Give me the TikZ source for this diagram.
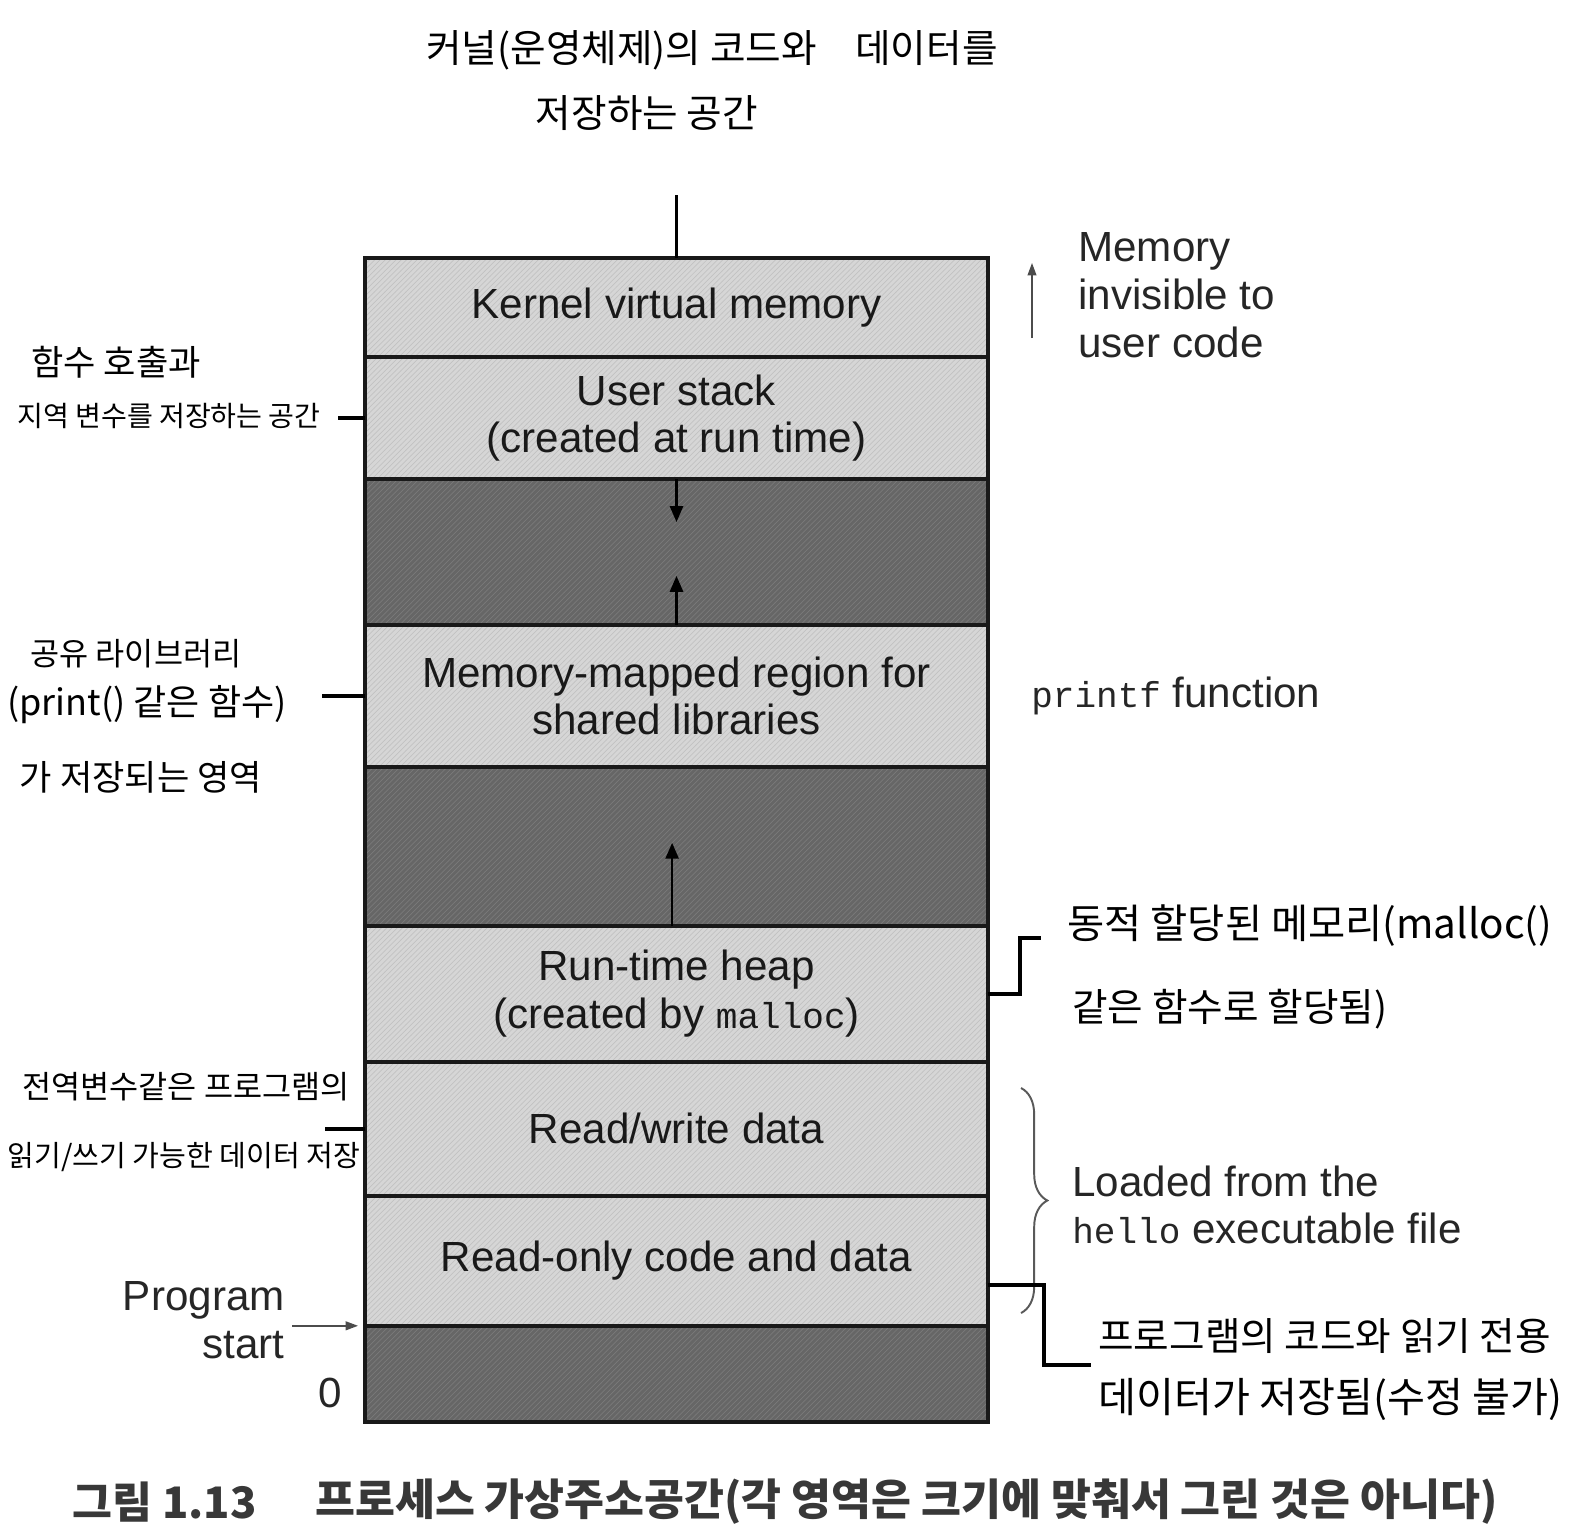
\documentclass[tikz,border=0pt]{standalone}
\usepackage{fontspec}
\setmainfont{Liberation Sans}
\setmonofont{Liberation Mono}
\newfontfamily\krfont{Noto Sans CJK KR}
\usetikzlibrary{
	arrows.meta,
	positioning,
	calc,
	patterns,
	decorations.pathreplacing
}

\newcommand\segfont{\fontsize{24}{27.2}\selectfont}
\newcommand\code[1]{{\fontsize{20.5}{24}\selectfont\ttfamily #1}}
\newcommand\handsize[1]{\fontsize{#1}{#1}\selectfont\krfont}

\begin{document}
\begin{tikzpicture}[
    x=0.02cm, y=-0.02cm,
    seg/.style={rectangle, draw=black!90, line width=2pt, minimum width=12.46cm, inner sep=0pt, outer sep=0pt, align=center, font=\segfont, text=black!90},
    light/.style={seg, preaction={fill=black!16}, pattern=north east lines, pattern color=black!24},
    dark/.style={seg, preaction={fill=black!60}, pattern=north east lines, pattern color=black!52},
    side/.style={font=\segfont, text=black!85, inner sep=0pt},
    hand/.style={inner sep=0pt, text=black},
    capfont/.style={font=\fontsize{24.7}{24.7}\selectfont\krfont\bfseries, text=black!78, inner sep=0pt},
    link/.style={line width=2.2pt},
    arrow/.style={line width=1.2pt, -{Triangle[length=9pt,width=7.5pt]}},
    thinarrow/.style={line width=0.8pt, black!70, -{Triangle[length=7pt,width=5pt]}}
]
\useasboundingbox (0,0) rectangle (1578,1536);

% Address space, top to bottom
\node[light, minimum height=1.98cm] (kernel) at (676.5,307.5) {Kernel virtual memory};
\node[light, minimum height=2.44cm, below=0pt of kernel] (stack) {User stack\\(created at run time)};
\node[dark, minimum height=2.92cm, below=0pt of stack] (gapa) {};
\node[light, minimum height=2.84cm, below=0pt of gapa] (mmap) {Memory-mapped region for\\shared libraries};
\node[dark, minimum height=3.18cm, below=0pt of mmap] (gapb) {};
\node[light, minimum height=2.72cm, below=0pt of gapb] (heap) {Run-time heap\\(created by \code{malloc})};
\node[light, minimum height=2.68cm, below=0pt of heap] (rw) {Read/write data};
\node[light, minimum height=2.60cm, below=0pt of rw] (ro) {Read-only code and data};
\node[dark, minimum height=1.92cm, below=0pt of ro] (gapc) {};

% Growth arrows
\draw[arrow] (stack.south) -- ++(0,43);
\draw[arrow] (mmap.north) -- ++(0,-49);
\draw[arrow] ([xshift=-2.5pt]heap.north) -- ++(0,-83);

% Printed labels
\node[side, anchor=west, align=left] (invis) at (1078,295) {Memory\\invisible to\\user code};
\coordinate (invlow) at (1032,338);
\coordinate (invhigh) at (1032,263);
\draw[thinarrow] (invlow) -- (invhigh);
\node[side, anchor=west] (printf) at (1031,696) {\code{printf} function};
\node[side, anchor=west, align=left] (loaded) at (1072,1205) {Loaded from the\\\code{hello} executable file};
\draw[decorate, decoration={brace, amplitude=15pt}, black!65, line width=1.1pt] (1021,1088) -- (1021,1313);
\node[side, anchor=east, align=right] (prog) at (285,1320) {Program\\start};
\draw[thinarrow] ([xshift=4pt]prog.east |- gapc.north west) -- ([xshift=-4pt]gapc.north west);
\node[side] (zero) at (330,1393) {0};

% Caption
\node[capfont, anchor=west] (fignum) at (72,1502) {그림 1.13};
\node[capfont, right=1.16cm of fignum] (caption) {프로세스 가상주소공간(각 영역은 크기에 맞춰서 그린 것은 아니다)};

% Handwritten notes
\node[hand, font=\handsize{22}] (kernelnote) at (712,50) {커널(운영체제)의 코드와\quad 데이터를};
\node[hand, font=\handsize{22}] (kernelnote2) at (647,113) {저장하는 공간};
\coordinate (kerneltap) at (676.5,195);
\draw[link] (kernel.north) -- (kerneltap);

\node[hand, font=\handsize{20}] (stacknote) at (116,362) {함수 호출과};
\node[hand, font=\handsize{16}] (stacknote2) at (169,416) {지역 변수를 저장하는 공간};
\draw[link] (stack.west) -- ++(-27,0);

\node[hand, font=\handsize{18}] (mmapnote) at (136,654) {공유 라이브러리};
\node[hand, font=\handsize{20.5}] (mmapnote2) at (147,705) {(print() 같은 함수)};
\node[hand, font=\handsize{20}] (mmapnote3) at (141,777) {가 저장되는 영역};
\draw[link] (mmap.west) -- ++(-43,0);

\node[hand, font=\handsize{23}, anchor=west] (heapnote) at (1067,926) {동적 할당된 메모리(malloc()};
\node[hand, font=\handsize{22}, anchor=west] (heapnote2) at (1072,1009) {같은 함수로 할당됨)};
\coordinate (heaptap) at (1041,938);
\draw[link] (heap.east) -- ++(32,0) |- (heaptap);

\node[hand, font=\handsize{18}] (rwnote) at (186,1087) {전역변수같은 프로그램의};
\node[hand, font=\handsize{16.6}] (rwnote2) at (184,1157) {읽기/쓰기 가능한 데이터 저장};
\draw[link] (rw.west) -- ++(-40,0);

\node[hand, font=\handsize{22}, anchor=west] (ronote) at (1098,1336) {프로그램의 코드와 읽기 전용};
\node[hand, font=\handsize{23.5}, anchor=west] (ronote2) at (1098,1399) {데이터가 저장됨(수정 불가)};
\coordinate (rotap) at (1091,1365);
\draw[link] ([yshift=-13.6pt]ro.east) -- ++(56,0) |- (rotap);

\end{tikzpicture}
\end{document}
